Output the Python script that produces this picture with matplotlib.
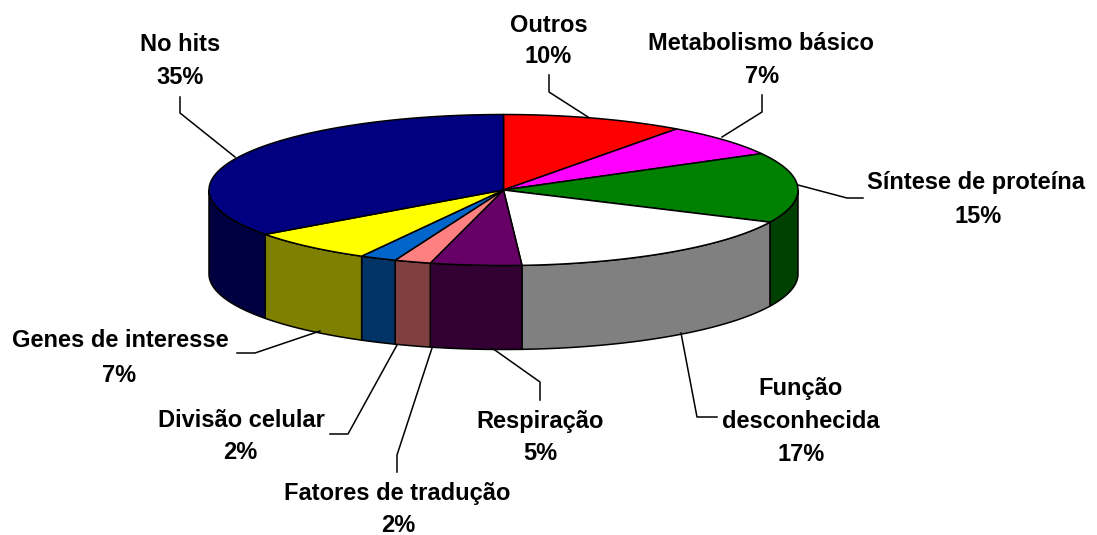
import numpy as np
import matplotlib.pyplot as plt
from matplotlib.patches import Polygon
from matplotlib.colors import to_rgb

# dados do grafico
nomes = ['Outros', 'Metabolismo básico', 'Síntese de proteína', 'Função\ndesconhecida',
         'Respiração', 'Fatores de tradução', 'Divisão celular', 'Genes de interesse', 'No hits']
valores = [10, 7, 15, 17, 5, 2, 2, 7, 35]
cores = ['#FF0000', '#FF00FF', '#008000', '#FFFFFF', '#660066',
         '#FF8080', '#0066CC', '#FFFF00', '#000080']

# geometria da pizza 3D (em pixels)
cx, cy = 503.5, 190
a, b = 294.5, 75.5
prof = 84

# posicoes dos rotulos: (x nome, base nome, x pct, base pct)
pos_rot = [(549, 32, 548, 63),
           (761, 50, 762, 83),
           (976, 189, 978, 223),
           (801, 395, 801, 461),
           (540, 428, 540, 460),
           (397, 500, 398, 532),
           (241, 427, 240, 459),
           (120, 347, 119, 382),
           (180, 51, 180, 84)]
# linhas de chamada
linhas = [[(588, 117), (549, 92), (549, 75)],
          [(722, 137), (762, 112), (762, 95)],
          [(798, 185), (847, 198), (863, 198)],
          [(681, 333), (697, 417), (717, 417)],
          [(492, 348), (540, 382), (540, 400)],
          [(432, 348), (397, 455), (397, 472)],
          [(397, 345), (348, 434), (330, 434)],
          [(320, 331), (255, 353), (237, 353)],
          [(235, 157), (180, 113), (180, 97)]]

def ponto(t, dy=0):
    t = np.radians(t)
    return cx + a*np.cos(t), cy - b*np.sin(t) + dy

fig = plt.figure(figsize=(10.97, 5.35), dpi=100)
ax = fig.add_axes([0, 0, 1, 1])
ax.set_xlim(0, 1097)
ax.set_ylim(535, 0)
ax.axis('off')

total = sum(valores)
angulos = [90]
for v in valores:
    angulos.append(angulos[-1] - 360*v/total)

# paredes laterais (so a metade da frente)
for i in range(len(valores)):
    t1, t2 = angulos[i], angulos[i+1]
    hi = min(t1, 0)
    lo = max(t2, -180)
    if hi <= lo:
        continue
    ts = np.linspace(hi, lo, 80)
    cima = [ponto(t) for t in ts]
    baixo = [ponto(t, prof) for t in ts[::-1]]
    lado = tuple(c*0.5 for c in to_rgb(cores[i]))
    ax.add_patch(Polygon(cima + baixo, closed=True, facecolor=lado,
                         edgecolor='black', linewidth=1.1, joinstyle='round'))

# fatias de cima
for i in range(len(valores)):
    ts = np.linspace(angulos[i], angulos[i+1], 120)
    pts = [(cx, cy)] + [ponto(t) for t in ts]
    ax.add_patch(Polygon(pts, closed=True, facecolor=cores[i],
                         edgecolor='black', linewidth=1.1, joinstyle='round'))

# rotulos
fonte = dict(family='Liberation Sans', weight='bold', size=17, color='black')
for i in range(len(valores)):
    xn, yn, xp, yp = pos_rot[i]
    pct = str(round(100*valores[i]/total)) + '%'
    if '\n' in nomes[i]:
        l1, l2 = nomes[i].split('\n')
        ax.text(xn, yn, l1, ha='center', va='baseline', **fonte)
        ax.text(xn, yn + 33, l2, ha='center', va='baseline', **fonte)
    else:
        ax.text(xn, yn, nomes[i], ha='center', va='baseline', **fonte)
    ax.text(xp, yp, pct, ha='center', va='baseline', **fonte)
    xs = [p[0] for p in linhas[i]]
    ys = [p[1] for p in linhas[i]]
    ax.plot(xs, ys, color='black', linewidth=1.1)

fig.savefig('out.png', dpi=100)
